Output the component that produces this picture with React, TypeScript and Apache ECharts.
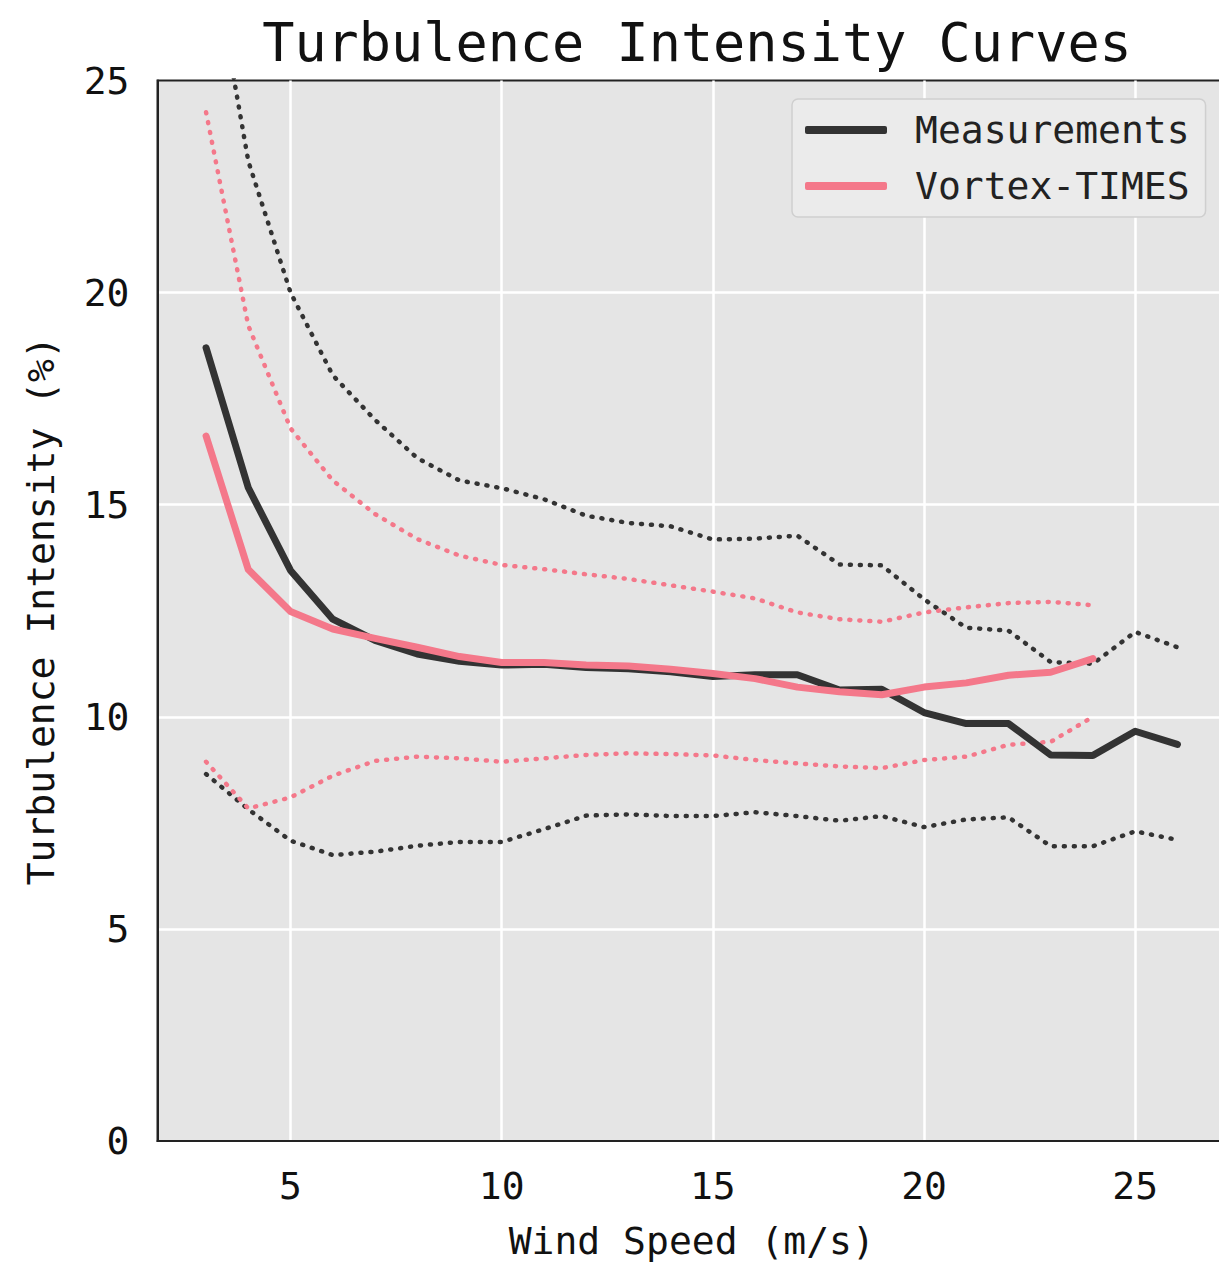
import React, { useEffect, useRef } from "react";
import * as echarts from "echarts";

const windSpeeds = [3, 4, 5, 6, 7, 8, 9, 10, 11, 12, 13, 14, 15, 16, 17, 18, 19, 20, 21, 22, 23, 24, 25, 26];
const vortexSpeeds = [3, 4, 5, 6, 7, 8, 9, 10, 11, 12, 13, 14, 15, 16, 17, 18, 19, 20, 21, 22, 23, 24];

const measMean = [18.7, 15.4, 13.45, 12.3, 11.8, 11.48, 11.31, 11.22, 11.24, 11.16, 11.13, 11.06, 10.95, 10.99, 10.99, 10.63, 10.65, 10.1, 9.84, 9.84, 9.1, 9.09, 9.66, 9.35];
const measUpper = [28.8, 23.1, 20.0, 18.05, 17.0, 16.1, 15.57, 15.39, 15.13, 14.74, 14.57, 14.49, 14.18, 14.2, 14.27, 13.59, 13.57, 12.77, 12.1, 12.03, 11.29, 11.25, 12.0, 11.64];
const measLower = [8.65, 7.82, 7.08, 6.74, 6.82, 6.96, 7.05, 7.05, 7.35, 7.67, 7.7, 7.66, 7.66, 7.75, 7.66, 7.55, 7.66, 7.4, 7.58, 7.63, 6.95, 6.95, 7.3, 7.1];

const vortexMean = [16.62, 13.47, 12.48, 12.07, 11.85, 11.64, 11.42, 11.28, 11.28, 11.22, 11.2, 11.12, 11.02, 10.9, 10.7, 10.59, 10.52, 10.7, 10.8, 10.98, 11.05, 11.37];
const vortexUpper = [24.25, 19.22, 16.8, 15.57, 14.78, 14.19, 13.8, 13.58, 13.48, 13.36, 13.25, 13.1, 12.95, 12.79, 12.46, 12.3, 12.24, 12.46, 12.58, 12.68, 12.71, 12.63];
const vortexLower = [8.94, 7.84, 8.1, 8.61, 8.96, 9.06, 9.02, 8.94, 9.02, 9.1, 9.14, 9.12, 9.09, 8.98, 8.9, 8.83, 8.79, 8.98, 9.06, 9.34, 9.41, 10.0];

const xTicks = [5, 10, 15, 20, 25];
const yTicks = [0, 5, 10, 15, 20, 25];

const MEAS_COLOR = "#333333";
const VORTEX_COLOR = "#F4788A";
const FONT = "DejaVu Sans Mono";

function pairs(xs: number[], ys: number[]) {
  return xs.map((x, i) => [x, ys[i]]);
}

export default function App() {
  const ref = useRef<HTMLDivElement>(null);
  useEffect(() => {
    if (!ref.current) return;
    const chart = echarts.init(ref.current, undefined, { renderer: "svg" });
    const dotted = (name: string, color: string, data: number[][]) => ({
      name,
      type: "line",
      data,
      symbol: "none",
      silent: true,
      clip: true,
      lineStyle: { color, width: 4.5, type: [1, 9], cap: "round", join: "round" },
      z: 2,
    });
    chart.setOption({
      animation: false,
      backgroundColor: "#ffffff",
      title: {
        text: "Turbulence Intensity Curves",
        left: 692,
        textAlign: "center",
        top: 10,
        textStyle: { fontFamily: FONT, fontSize: 53.5, fontWeight: "normal", color: "#111111" },
      },
      legend: {
        data: ["Measurements", "Vortex-TIMES"],
        orient: "vertical",
        left: 792,
        top: 99,
        padding: [9, 16, 9, 13],
        itemGap: 12,
        itemWidth: 82,
        itemHeight: 8,
        icon: "roundRect",
        backgroundColor: "#ebebeb",
        borderColor: "#cfcfcf",
        borderWidth: 1.5,
        borderRadius: 6,
        textStyle: {
          fontFamily: FONT,
          fontSize: 38,
          color: "#222222",
          lineHeight: 44,
          padding: [0, 0, 0, 23],
        },
      },
      grid: {
        left: 157.5,
        top: 80.5,
        width: 1226 - 157.5,
        height: 1142 - 80.5,
        show: true,
        backgroundColor: "#e5e5e5",
        borderColor: "#222222",
        borderWidth: 2,
        containLabel: false,
      },
      xAxis: {
        type: "value",
        min: 1.85,
        max: 27.15,
        name: "Wind Speed (m/s)",
        nameLocation: "middle",
        nameGap: 81,
        nameTextStyle: { fontFamily: FONT, fontSize: 38, color: "#111111" },
        axisLine: { show: true, lineStyle: { color: "#222222", width: 2 } },
        axisTick: { show: false, customValues: xTicks },
        axisLabel: {
          fontFamily: FONT,
          fontSize: 38,
          color: "#111111",
          margin: 26,
          customValues: xTicks,
        },
        splitLine: { show: true, lineStyle: { color: "#ffffff", width: 2.5 } },
      },
      yAxis: {
        type: "value",
        min: yTicks[0],
        max: yTicks[yTicks.length - 1],
        interval: 5,
        name: "Turbulence Intensity (%)",
        nameLocation: "middle",
        nameGap: 98,
        nameTextStyle: { fontFamily: FONT, fontSize: 38, color: "#111111" },
        axisLine: { show: true, lineStyle: { color: "#222222", width: 2 } },
        axisTick: { show: false },
        axisLabel: { fontFamily: FONT, fontSize: 38, color: "#111111", margin: 28 },
        splitLine: { show: true, showMinLine: false, showMaxLine: false, lineStyle: { color: "#ffffff", width: 2.5 } },
      },
      series: [
        dotted("measUpper", MEAS_COLOR, pairs(windSpeeds, measUpper)),
        dotted("measLower", MEAS_COLOR, pairs(windSpeeds, measLower)),
        dotted("vortexUpper", VORTEX_COLOR, pairs(vortexSpeeds, vortexUpper)),
        dotted("vortexLower", VORTEX_COLOR, pairs(vortexSpeeds, vortexLower)),
        {
          name: "Measurements",
          type: "line",
          data: pairs(windSpeeds, measMean),
          symbol: "none",
          itemStyle: { color: MEAS_COLOR },
          lineStyle: { color: MEAS_COLOR, width: 7, cap: "round", join: "round" },
          z: 3,
        },
        {
          name: "Vortex-TIMES",
          type: "line",
          data: pairs(vortexSpeeds, vortexMean),
          symbol: "none",
          itemStyle: { color: VORTEX_COLOR },
          lineStyle: { color: VORTEX_COLOR, width: 7, cap: "round", join: "round" },
          z: 4,
        },
      ],
    });
    return () => chart.dispose();
  }, []);
  return (
    <div style={{ position: "fixed", left: 0, top: 0, width: 1219, height: 1265, overflow: "hidden", background: "#fff" }}>
      <div ref={ref} style={{ width: 1240, height: 1265 }} />
    </div>
  );
}
